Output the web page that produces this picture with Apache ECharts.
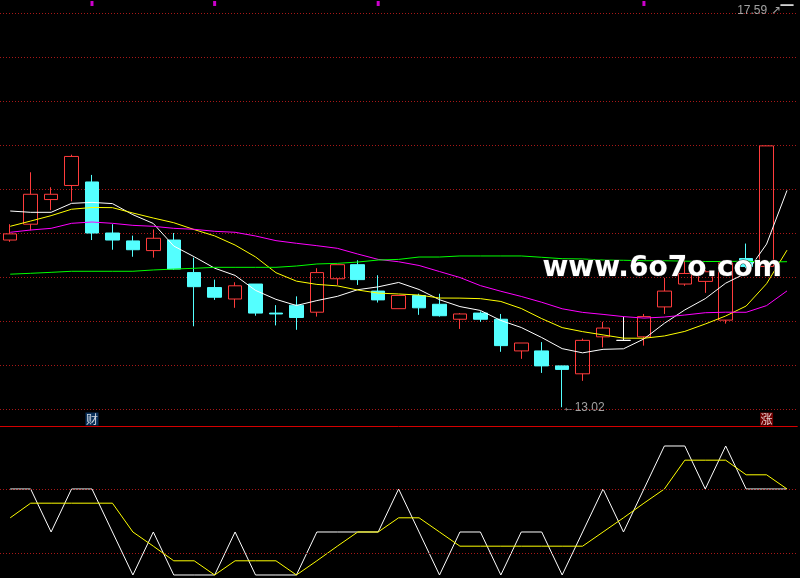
<!DOCTYPE html>
<html lang="zh-CN">
<head>
<meta charset="UTF-8">
<title>K线 日线</title>
<script src="https://cdn.jsdelivr.net/npm/echarts@6/dist/echarts.min.js"></script>
<style>
    *{margin:0;padding:0;}
    body{background:#000;}
    #kline{width:800px;height:578px;}
</style>
</head>
<body>
<div id="kline"></div>
<script type="text/javascript">
    // trading days (no labels shown on the chart)
    var days = ['1','2','3','4','5','6','7','8','9','10','11','12','13','14','15','16','17','18','19','20',
                '21','22','23','24','25','26','27','28','29','30','31','32','33','34','35','36','37','38','39'];

    // [open, close, low, high]
    var kData = [
        [14.92,14.99,14.90,15.10],[15.10,15.44,15.03,15.69],[15.38,15.44,15.26,15.52],[15.54,15.87,15.36,15.89],
        [15.58,15.00,14.92,15.66],[15.00,14.92,14.81,15.10],[14.91,14.81,14.73,14.97],[14.80,14.94,14.72,15.04],
        [14.92,14.59,14.58,15.00],[14.55,14.39,13.94,14.72],[14.38,14.27,14.24,14.47],[14.25,14.40,14.15,14.44],
        [14.42,14.09,14.06,14.42],[14.09,14.08,13.95,14.18],[14.18,14.04,13.90,14.28],[14.10,14.55,14.05,14.60],
        [14.48,14.64,14.41,14.64],[14.64,14.47,14.41,14.69],[14.34,14.24,14.21,14.52],[14.14,14.29,14.14,14.29],
        [14.29,14.15,14.07,14.31],[14.19,14.06,14.05,14.31],[14.02,14.08,13.91,14.09],[14.09,14.02,13.99,14.11],
        [14.02,13.72,13.65,14.08],[13.66,13.75,13.57,13.75],[13.66,13.49,13.41,13.76],[13.49,13.45,13.02,13.49],
        [13.40,13.78,13.32,13.80],[13.82,13.92,13.70,13.99],[13.78,13.78,13.78,14.05],[13.82,14.05,13.72,14.08],
        [14.16,14.34,14.08,14.49],[14.42,14.54,14.40,14.75],[14.45,14.56,14.32,14.58],[14.01,14.66,13.97,14.66],
        [14.71,14.62,14.60,14.88],[14.62,15.99,14.60,15.99],[17.59,17.59,17.59,17.59]
    ];

    var ma5  = [15.25,15.235,15.235,15.337,15.348,15.334,15.208,15.108,14.852,14.73,14.60,14.518,14.348,14.246,
                14.176,14.232,14.28,14.356,14.388,14.438,14.358,14.242,14.164,14.12,14.006,13.926,13.812,13.686,
                13.638,13.678,13.684,13.796,13.974,14.126,14.254,14.43,14.544,14.874,15.484];
    var ma10 = [15.076,15.136,15.197,15.27,15.29,15.288,15.227,15.17,15.117,15.039,14.967,14.863,14.728,14.549,
                14.453,14.416,14.399,14.352,14.317,14.307,14.295,14.261,14.26,14.254,14.222,14.142,14.027,13.925,
                13.879,13.842,13.805,13.804,13.83,13.882,13.966,14.057,14.17,14.424,14.805];
    var ma20 = [15.008,15.034,15.053,15.11,15.125,15.11,15.087,15.076,15.053,15.042,15.019,15.008,14.966,14.913,
                14.883,14.856,14.826,14.761,14.70,14.673,14.631,14.562,14.494,14.402,14.338,14.279,14.213,14.139,
                14.098,14.075,14.05,14.033,14.045,14.068,14.094,14.10,14.099,14.175,14.342];
    var ma60 = [14.532,14.542,14.553,14.565,14.565,14.565,14.565,14.58,14.59,14.599,14.61,14.61,14.61,14.61,
                14.625,14.648,14.655,14.67,14.693,14.70,14.727,14.727,14.739,14.739,14.739,14.739,14.724,14.708,
                14.705,14.693,14.69,14.685,14.685,14.68,14.676,14.676,14.68,14.67,14.674];

    // lower indicator
    var indWhite  = [2,2,1,2,2,1,0,1,0,0,0,1,0,0,0,1,1,1,1,2,1,0,1,1,0,1,1,0,1,2,1,2,3,3,2,3,2,2,2];
    var indYellow = [1.33,1.67,1.67,1.67,1.67,1.67,1,0.67,0.33,0.33,0,0.33,0.33,0.33,0,0.33,0.67,1,1,1.33,
                     1.33,1,0.67,0.67,0.67,0.67,0.67,0.67,0.67,1,1.33,1.67,2,2.67,2.67,2.67,2.33,2.33,2];
    var indLevels = [0.5, 2];

    var infoDays = [4, 10, 18, 31];
    var badgeDays = [4, 37];
    var badgeText = ['财', '涨'];
    var lowPoint = [27, 13.02];
    var highPoint = [38, 17.59];

    var gridLeft = -2.25, gridW = 799.5;
    var dotRed = '#a81818';
    var upRed = '#ff3c3c', downCyan = '#54ffff';

    var chart = echarts.init(document.getElementById('kline'));
    var option = {
        backgroundColor: '#000',
        animation: false,
        grid: [
            {left: gridLeft, width: gridW, top: 13, height: 396},
            {left: gridLeft, width: gridW, top: 426, height: 152}
        ],
        xAxis: [
            {type: 'category', gridIndex: 0, data: days, axisLine: {show: false}, axisTick: {show: false},
             axisLabel: {show: false}, splitLine: {show: false}},
            {type: 'category', gridIndex: 1, data: days, position: 'top',
             axisLine: {show: true, onZero: false, lineStyle: {color: '#d40000', width: 1}},
             axisTick: {show: false}, axisLabel: {show: false}, splitLine: {show: false}}
        ],
        yAxis: [
            {type: 'value', gridIndex: 0, min: 13, max: 17.5, interval: 0.5,
             axisLine: {show: false}, axisTick: {show: false}, axisLabel: {show: false},
             splitLine: {show: true, lineStyle: {color: dotRed, type: [1, 2], width: 1}}},
            {type: 'value', gridIndex: 1, min: -0.07, max: 3.465,
             axisLine: {show: false}, axisTick: {show: false}, axisLabel: {show: false}, splitLine: {show: false}}
        ],
        series: [
            {
                type: 'candlestick', xAxisIndex: 0, yAxisIndex: 0, data: kData, barWidth: 14, clip: false, silent: true,
                itemStyle: {color: 'rgba(0,0,0,0)', color0: downCyan, borderColor: upRed, borderColor0: downCyan,
                            borderColorDoji: '#ffffff', borderWidth: 1}
            },
            {type: 'line', data: ma5, symbol: 'none', silent: true, lineStyle: {color: '#ffffff', width: 1}},
            {type: 'line', data: ma10, symbol: 'none', silent: true, lineStyle: {color: '#ffff00', width: 1}},
            {type: 'line', data: ma20, symbol: 'none', silent: true, lineStyle: {color: '#ff00ff', width: 1}},
            {type: 'line', data: ma60, symbol: 'none', silent: true, lineStyle: {color: '#00ff00', width: 1}},
            {   // info-mine markers along the top edge
                type: 'scatter', clip: false, silent: true, symbol: 'rect', symbolSize: [3, 5],
                itemStyle: {color: '#ff00ff'},
                data: infoDays.map(function (d) { return [d, 17.608]; })
            },
            {   // 财 / 涨 badges under the price panel
                type: 'scatter', clip: false, silent: true, symbol: 'rect', symbolSize: [13, 13],
                data: badgeDays.map(function (d, i) {
                    return {value: [d, 12.886], itemStyle: {color: i === 0 ? '#0b3c70' : '#8c0000'},
                            label: {formatter: badgeText[i]}};
                }),
                label: {show: true, position: 'inside', color: '#fff', fontSize: 12,
                        fontFamily: 'Noto Sans CJK SC'}
            },
            {   // low / high price marks
                type: 'scatter', clip: false, silent: true, symbol: 'rect', symbolSize: 1,
                itemStyle: {color: 'rgba(0,0,0,0)'},
                data: [
                    {value: lowPoint, label: {position: 'right', distance: 0, formatter: '←' + lowPoint[1].toFixed(2)}},
                    {value: highPoint, label: {position: 'left', distance: 6, offset: [0, 6],
                                               formatter: highPoint[1].toFixed(2) + ' ↗'}}
                ],
                label: {show: true, color: '#c8c8c8', fontSize: 12, fontFamily: 'Liberation Sans'}
            },
            {
                type: 'line', xAxisIndex: 1, yAxisIndex: 1, data: indWhite, symbol: 'none', silent: true,
                lineStyle: {color: '#ffffff', width: 1},
                markLine: {silent: true, symbol: ['none', 'none'], label: {show: false},
                           lineStyle: {color: dotRed, type: [1, 2], width: 1},
                           data: indLevels.map(function (v) { return {yAxis: v}; })}
            },
            {
                type: 'line', xAxisIndex: 1, yAxisIndex: 1, data: indYellow, symbol: 'none', silent: true,
                lineStyle: {color: '#ffff00', width: 1}
            }
        ],
        graphic: [{
            type: 'text', left: 542, top: 254, z: 100, silent: true,
            style: {text: 'www.6o7o.com', fill: '#ffffff', stroke: '#222', lineWidth: 1,
                    font: 'bold 28px "DejaVu Sans"'}
        }]
    };
    chart.setOption(option);
</script>
</body>
</html>
